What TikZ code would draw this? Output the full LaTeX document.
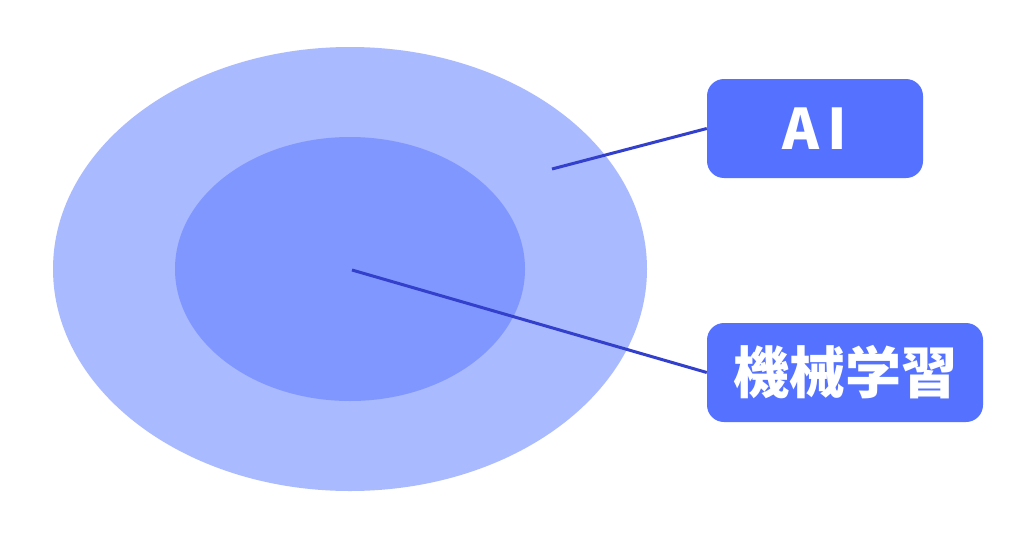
\documentclass[tikz,border=0pt]{standalone}
\usepackage{fontspec}
\usetikzlibrary{shapes.geometric}
\newfontfamily\cjk{Noto Sans CJK JP}
\definecolor{outerc}{RGB}{170,186,255}
\definecolor{innerc}{RGB}{128,151,255}
\definecolor{boxc}{RGB}{84,114,255}
\definecolor{linec}{RGB}{51,64,204}
\begin{document}
\begin{tikzpicture}[x=1pt,y=-1pt,
  labelbox/.style={fill=boxc,rounded corners=17pt,minimum height=99pt,inner sep=0pt,
    text=white,font=\cjk\bfseries\fontsize{56pt}{60pt}\selectfont},
  connector/.style={draw=linec,line width=3pt}]
\useasboundingbox (0,0) rectangle (1024,538);
\fill[white] (0,0) rectangle (1024,538);
\node[ellipse,fill=outerc,minimum width=594pt,minimum height=444pt,inner sep=0pt] (outer) at (350,269) {};
\node[ellipse,fill=innerc,minimum width=350pt,minimum height=264pt,inner sep=0pt] (inner) at (350,269) {};
\coordinate (p1) at (552,169);
\coordinate (p2) at (352,270);
\node[labelbox,minimum width=216pt] (ai) at (815,128.5) {A\hspace{8pt}I};
\node[labelbox,minimum width=276pt] (ml) at (845,372.5) {機械学習};
\draw[connector] (p1) -- (ai.west);
\draw[connector] (p2) -- (ml.west);
\end{tikzpicture}
\end{document}
